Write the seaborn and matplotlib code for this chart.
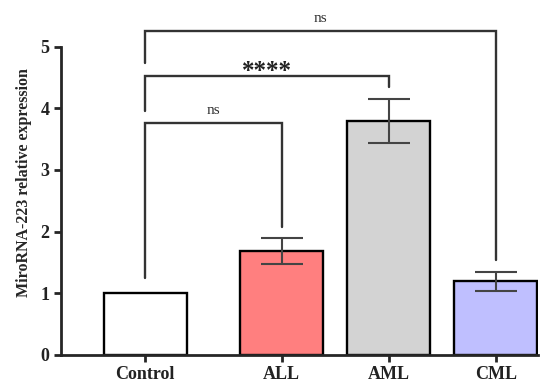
import pandas as pd
import seaborn as sns
import matplotlib.pyplot as plt

# datos
groups = ["Control", "ALL", "AML", "CML"]
means = [1.0, 1.68, 3.80, 1.19]
sd = [0.0, 0.21, 0.36, 0.16]
bar_colors = ["#FFFFFF", "#FF7F7F", "#D3D3D3", "#BFBFFF"]

# comparaciones: (grupo a, grupo b, altura, fin pierna a, fin pierna b, texto)
comparisons = [
    (0, 1, 3.76, 1.25, 2.08, "ns"),
    (0, 2, 4.52, 3.95, 4.35, "****"),
    (0, 3, 5.25, 4.74, 1.54, "ns"),
]

# posicion en x (control separado un poco mas)
xpos = [0, 1.275, 2.275, 3.275]

df = pd.DataFrame({"group": groups, "x": xpos, "value": means})

sns.set_style("ticks")
plt.rcParams["font.family"] = ["Liberation Serif", "DejaVu Serif"]

fig = plt.figure(figsize=(5.47, 3.87), dpi=100)
ax = fig.add_axes([0.111, 0.0835, 0.8726, 0.891])

sns.barplot(data=df, x="x", y="value", hue="group", palette=bar_colors,
            native_scale=True, dodge=False, width=0.78, errorbar=None,
            saturation=1, edgecolor="black", linewidth=1.7, legend=False,
            ax=ax)

# barras de error (solo si hay sd)
for xi, m, s in zip(xpos, means, sd):
    if s > 0:
        ax.errorbar(xi, m, yerr=s, fmt="none", ecolor="#444444",
                    elinewidth=1.5, capsize=15, capthick=1.5, zorder=3)

# corchetes de significancia
for a, b, h, la, lb, txt in comparisons:
    xa, xb = xpos[a], xpos[b]
    ax.plot([xa, xa, xb, xb], [la, h, h, lb], color="#333333", lw=1.7,
            clip_on=False, solid_joinstyle="miter")
    if txt == "ns":
        ax.text((xa + xb) / 2, h + 0.1, txt, ha="center", va="bottom",
                fontsize=11, color="#333333")
    else:
        ax.text((xa + xb) / 2, h - 0.02, txt, ha="center", va="baseline",
                fontsize=18, fontweight="bold", color="#222222")

ax.set_xlim(-0.79, 3.67)
ax.set_ylim(0, 5.6)
ax.set_yticks([0, 1, 2, 3, 4, 5])
ax.set_xticks(xpos)
ax.set_xticklabels(groups)
ax.spines["left"].set_bounds(0, 5)
ax.spines["top"].set_visible(False)
ax.spines["right"].set_visible(False)
for s in ["left", "bottom"]:
    ax.spines[s].set_linewidth(2)
ax.tick_params(axis="both", width=2, length=5, labelsize=13, pad=3)
for lab in ax.get_xticklabels() + ax.get_yticklabels():
    lab.set_fontweight("bold")
    lab.set_color("#222222")

ax.set_xlabel("")
ax.set_ylabel("MiroRNA-223 relative expression", fontsize=11.5,
              fontweight="bold", labelpad=6)

fig.savefig("out.png", dpi=100)
